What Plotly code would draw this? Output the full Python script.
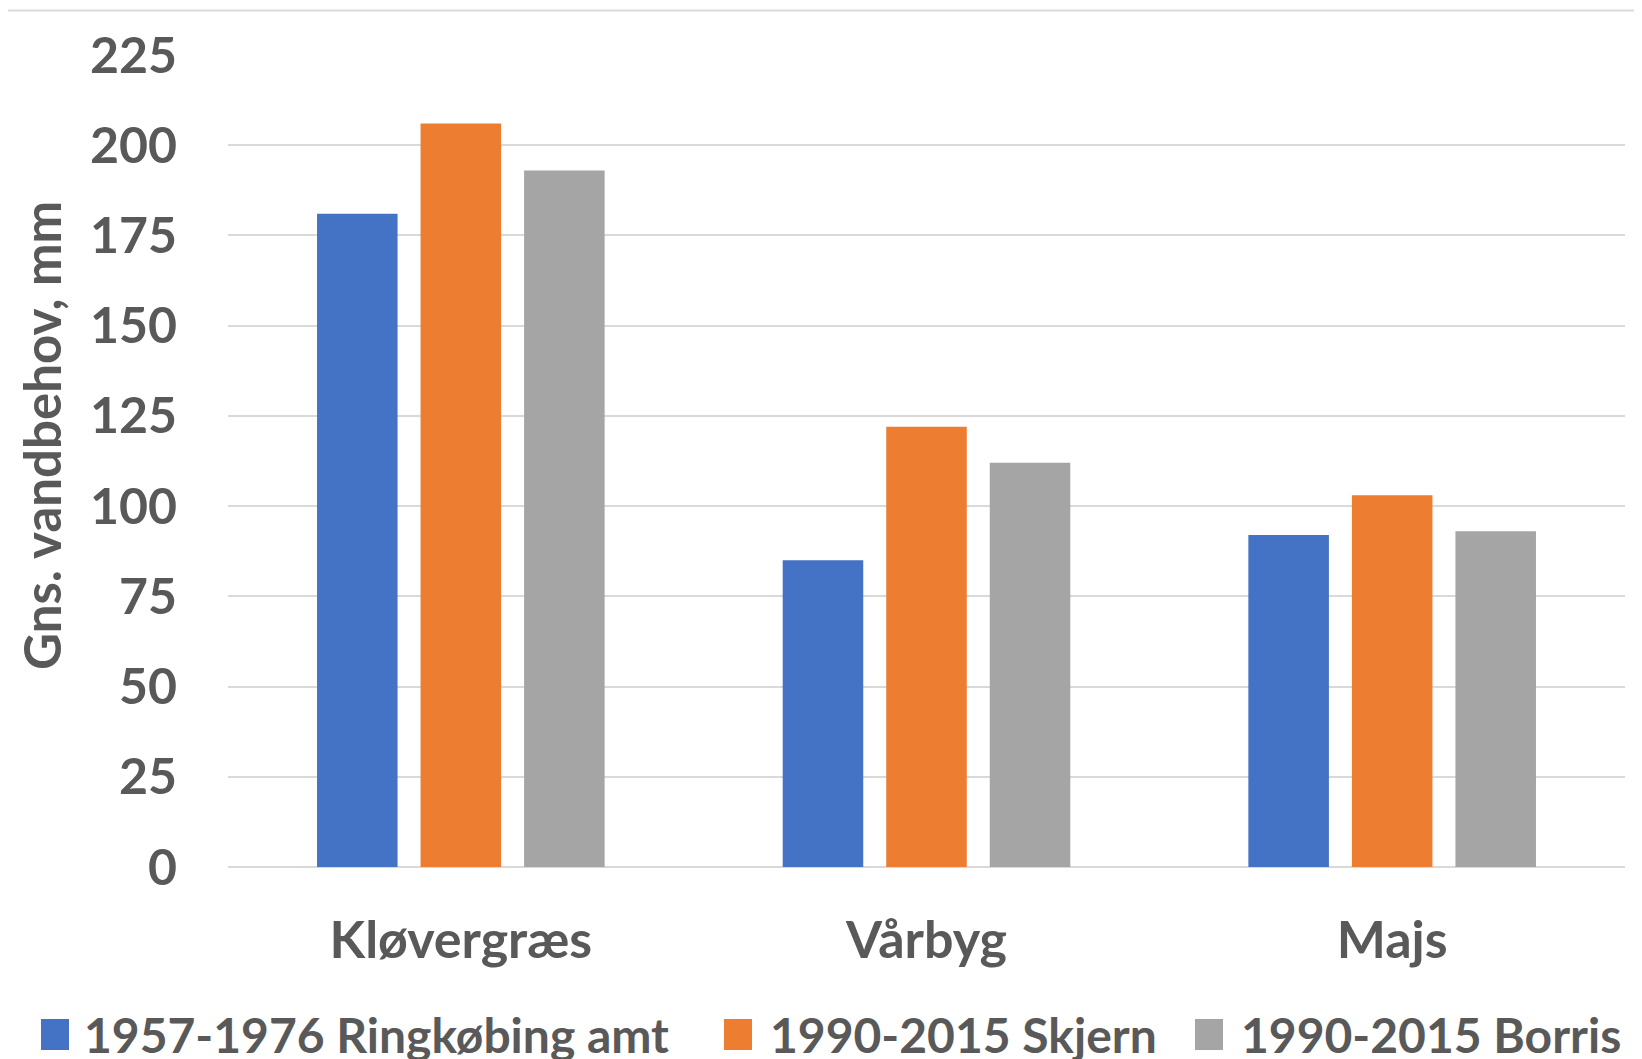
import plotly.graph_objects as go

categories = ["Kløvergræs", "Vårbyg", "Majs"]
series_names = ["1957-1976 Ringkøbing amt", "1990-2015 Skjern", "1990-2015 Borris"]
ringkobing = [181, 85, 92]
skjern = [206, 122, 103]
borris = [193, 112, 93]
y_ticks = [0, 25, 50, 75, 100, 125, 150, 175, 200, 225]

colors = ["#4472C4", "#ED7D31", "#A5A5A5"]
text_color = "#595959"
FONT = "Lato"
FS = 50

W, H = 1642, 1059
OFF = 8  # default page body margin
# desired screen positions of plot area
SL, SR, ST, SB = 228, 1625, 55, 867
L, T = SL - OFF, ST - OFF
R, B = W - (SR - OFF), H - (SB - OFF)
pw, ph = SR - SL, SB - ST


def px_x(x):
    return (x - SL) / pw


def px_y(y):
    return (SB - y) / ph


fig = go.Figure()
for name, vals, c in zip(series_names, [ringkobing, skjern, borris], colors):
    fig.add_trace(go.Bar(x=categories, y=vals, name=name, marker_color=c,
                         marker_line_width=0, showlegend=False))

fig.update_layout(
    width=W, height=H,
    margin=dict(l=L, r=R, t=T, b=B),
    plot_bgcolor="white", paper_bgcolor="white",
    barmode="group", bargap=0.333, bargroupgap=0.222,
    font=dict(family=FONT, color=text_color, size=FS),
)
fig.update_yaxes(range=[0, 225], tickvals=y_ticks, showgrid=True,
                 gridcolor="#d9d9d9", gridwidth=2, zeroline=True,
                 zerolinecolor="#d9d9d9", zerolinewidth=2, showline=False,
                 ticks="", ticklabelstandoff=50,
                 tickfont=dict(family=FONT, size=FS, color=text_color, weight="bold"))
fig.update_xaxes(showgrid=False, showline=False, ticks="", ticklabelstandoff=38,
                 tickfont=dict(family=FONT, size=FS + 2, color=text_color, weight="bold"))

annotations = [dict(text="Gns. vandbehov, mm", textangle=-90, xref="paper", yref="paper",
                    x=px_x(41), y=px_y(435), xanchor="center", yanchor="middle",
                    showarrow=False,
                    font=dict(family=FONT, size=FS + 1, color=text_color, weight="bold"))]
shapes = [dict(type="line", xref="paper", yref="paper", x0=px_x(0), x1=px_x(W + 10),
               y0=px_y(10.5), y1=px_y(10.5), line=dict(color="#d9d9d9", width=2))]

leg_marker_x = [41, 724, 1195]
leg_text_x = [82, 768, 1239]
for name, c, mx, tx in zip(series_names, colors, leg_marker_x, leg_text_x):
    shapes.append(dict(type="rect", xref="paper", yref="paper",
                       x0=px_x(mx), x1=px_x(mx + 28), y0=px_y(1050), y1=px_y(1019),
                       fillcolor=c, line=dict(width=0)))
    annotations.append(dict(text=name, xref="paper", yref="paper", x=px_x(tx), y=px_y(1034),
                            xanchor="left", yanchor="middle", showarrow=False,
                            font=dict(family=FONT, size=FS - 2, color=text_color, weight="bold")))

fig.update_layout(annotations=annotations, shapes=shapes)
fig.write_html("out.html")
